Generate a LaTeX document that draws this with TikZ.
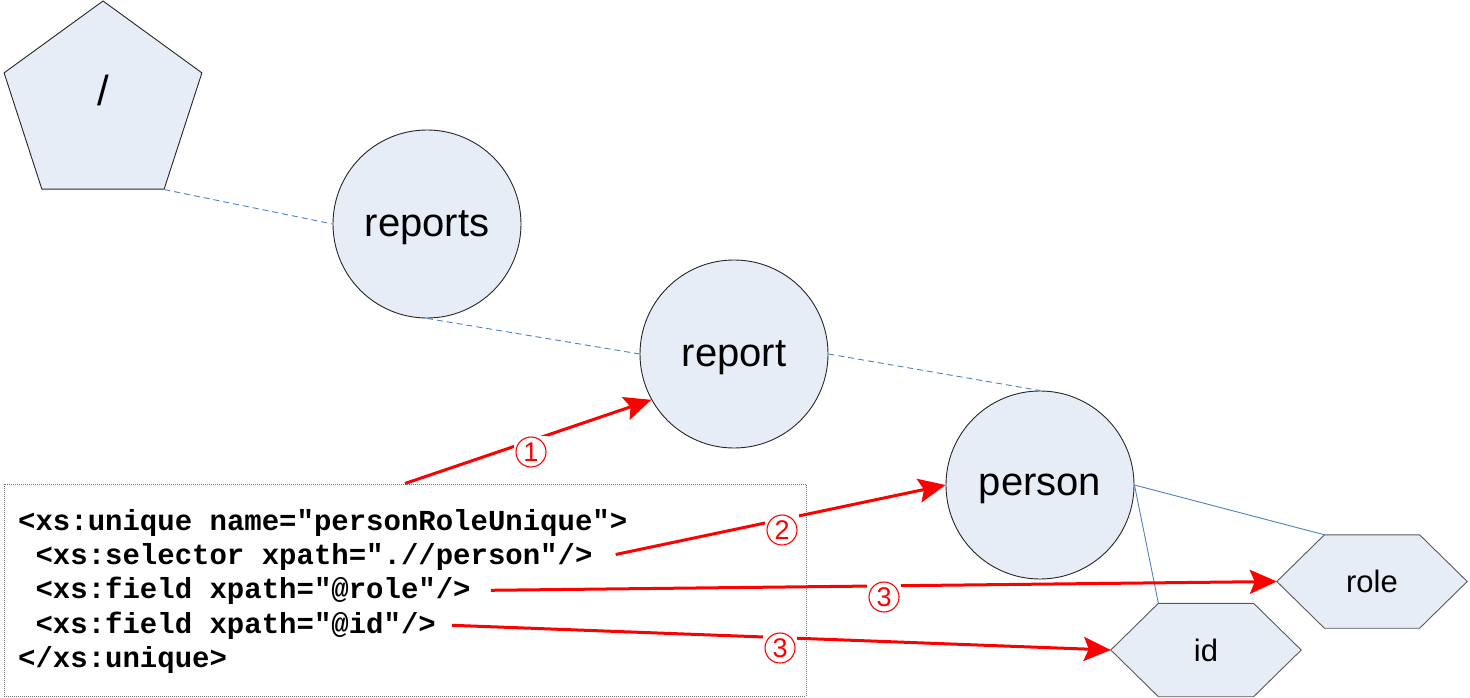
\documentclass[tikz,border=0pt]{standalone}
\usepackage{fontspec}
\setmainfont{Liberation Sans}
\newfontfamily\codefont{Liberation Mono}
\usetikzlibrary{arrows.meta,shapes.geometric,calc,backgrounds}
\definecolor{nodefill}{HTML}{E7EDF7}
\definecolor{edgeblue}{HTML}{4F81BD}
\begin{document}
\begin{tikzpicture}[x=1pt,y=-1pt,
  treenode/.style={circle, draw=black!85, line width=0.9pt, fill=nodefill, minimum size=188pt, inner sep=0pt, text depth=0pt, font=\fontsize{40}{48}\selectfont},
  rootnode/.style={regular polygon, regular polygon sides=5, draw=black!85, line width=0.9pt, fill=nodefill, minimum size=208pt, inner sep=0pt, font=\fontsize{42}{48}\selectfont},
  hexnode/.style={rectangle, minimum width=190pt, minimum height=93pt, inner sep=0pt, font=\fontsize{31}{36}\selectfont},
  hexshape/.style={draw=black!65, line width=0.9pt, fill=nodefill},
  treelink/.style={draw=edgeblue, line width=0.9pt, dash pattern=on 6pt off 4pt},
  attrlink/.style={draw=edgeblue, line width=0.9pt},
  codebox/.style={draw=black!55, line width=1pt, dash pattern=on 1pt off 1pt, minimum width=802pt, minimum height=212pt, inner sep=0pt},
  codeline/.style={anchor=base west, inner sep=0pt, font=\codefont\bfseries\fontsize{29}{34}\selectfont},
  redarrow/.style={draw=red, line width=3pt, -{Stealth[length=27pt,width=24pt,inset=5pt]}},
  numlbl/.style={rectangle, fill=white, minimum width=34pt, minimum height=32pt, inner sep=0pt, text=red, font=\fontsize{27}{30}\selectfont, path picture={\draw[red, line width=1.1pt] (path picture bounding box.center) circle (15pt);}}
]
\useasboundingbox (0,0) rectangle (1470,698);

% tree nodes
\node[rootnode] (root) at (103,105) {\raisebox{-1pt}[0pt][0pt]{/}};
\node[treenode] (reports) at (427,224) {reports};
\node[treenode] (report) at (734,354) {report};
\node[treenode] (person) at (1040,485) {person};
\node[hexnode] (role) at (1372,581.5) {role};
\node[hexnode] (id) at (1206,650) {id};

\begin{pgfonlayer}{background}
  \foreach \n in {role,id}{
    \draw[hexshape] (\n.west) -- ($(\n.north west)!.25!(\n.north east)$) -- ($(\n.north west)!.75!(\n.north east)$) -- (\n.east) -- ($(\n.south west)!.75!(\n.south east)$) -- ($(\n.south west)!.25!(\n.south east)$) -- cycle;
  }
\end{pgfonlayer}

% tree links
\draw[treelink] (root.corner 4) -- (reports.west);
\draw[treelink] (reports.south) -- (report.west);
\draw[treelink] (report.east) -- (person.north);
\draw[attrlink] (person.east) -- ($(role.north west)!.25!(role.north east)$);
\draw[attrlink] (person.east) -- ($(id.north west)!.25!(id.north east)$);

% code box
\node[codebox] (code) at (405,590) {};
\node[codeline] (l1) at (18,530) {<xs:unique name="personRoleUnique">};
\node[codeline] (l2) at (35.4,564) {<xs:selector xpath=".//person"/>};
\node[codeline] (l3) at (35.4,598) {<xs:field xpath="@role"/>};
\node[codeline] (l4) at (35.4,633) {<xs:field xpath="@id"/>};
\node[codeline] (l5) at (18,667) {</xs:unique>};

\coordinate (s2) at ($(l2.east)+(23,-2)$);
\coordinate (s3) at ($(l3.east)+(20,0)$);
\coordinate (s4) at ($(l4.east)+(16,0)$);

% red arrows
\draw[redarrow] (code.north) -- (report.209);
\draw[redarrow] (s2) -- (person.west);
\draw[redarrow] (s3) -- (role.west);
\draw[redarrow] (s4) -- (id.west);

% step labels
\node[numlbl] (n1) at (531,452) {1};
\node[numlbl] (n2) at (782,530) {2};
\node[numlbl] (n3a) at (884,597) {3};
\node[numlbl] (n3b) at (780,648) {3};
\end{tikzpicture}
\end{document}
